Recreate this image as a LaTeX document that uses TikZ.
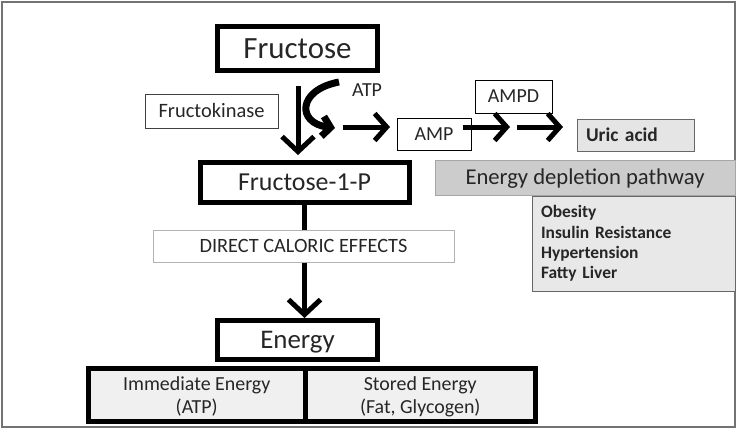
\documentclass[tikz,border=0pt]{standalone}
\usepackage{fontspec}
\setmainfont{Carlito}
\usetikzlibrary{arrows.meta}

\tikzset{
    heavybox/.style={draw, line width=5bp, inner sep=0pt, text=black!85},
    thinbox/.style={draw, line width=1bp, inner sep=0pt, text=black!85},
    caps/.style={text height=#1, text depth=0pt},
    bigarrow/.style={line width=5bp, -{Straight Barb[length=12bp,width=27bp]}}
}

\begin{document}
\begin{tikzpicture}[x=1bp, y=-1bp]
\useasboundingbox (0,0) rectangle (739,432);
\draw[black!55, line width=1.3bp] (2,2) rectangle (735,427);

% main chain
\node[heavybox, caps=19.8bp, minimum width=160bp, minimum height=44bp, font=\fontsize{31}{34}\selectfont] (fructose) at (297.5,48.5) {Fructose};
\node[thinbox, caps=13.1bp, draw=black!75, minimum width=133bp, minimum height=34bp, font=\fontsize{20.5}{24}\selectfont] (kinase) at (211.5,111) {Fructokinase};
\node[heavybox, caps=16.6bp, minimum width=209bp, minimum height=40bp, font=\fontsize{26}{30}\selectfont] (f1p) at (304.5,182.5) {Fructose-1-P};
\node[thinbox, caps=13bp, draw=black!30, minimum width=301bp, minimum height=32bp, font=\fontsize{20.4}{24}\selectfont] (direct) at (303.5,246) {DIRECT CALORIC EFFECTS};
\node[heavybox, caps=17.3bp, minimum width=160bp, minimum height=39bp, font=\fontsize{27}{31}\selectfont] (energy) at (297.5,340) {Energy};

% energy split
\node[heavybox, text depth=0pt, fill=black!6, minimum width=216.5bp, minimum height=53bp, align=center, font=\fontsize{20}{23.5}\selectfont] (immediate) at (196.75,395) {Immediate Energy\\(ATP)};
\node[heavybox, text depth=0pt, fill=black!6, minimum width=230.5bp, minimum height=53bp, align=center, font=\fontsize{20}{23.5}\selectfont] (stored) at (420.25,395) {Stored Energy\\(Fat, Glycogen)};

% side pathway
\node[caps=12.8bp, inner sep=0pt, text=black!85, font=\fontsize{20}{24}\selectfont] (atp) at (367,90.5) {ATP};
\node[thinbox, caps=12.8bp, minimum width=74bp, minimum height=32bp, font=\fontsize{20}{24}\selectfont] (amp) at (434,134) {AMP};
\node[thinbox, caps=12.8bp, minimum width=77bp, minimum height=33bp, font=\fontsize{20}{24}\selectfont] (ampd) at (513.5,96.5) {AMPD};
\node[thinbox, caps=12.6bp, draw=black!60, fill=black!10, minimum width=117bp, minimum height=32bp, text width=99bp, inner xsep=9bp, align=left, font=\bfseries\fontsize{19.5}{23}\selectfont] (uric) at (635.5,135) {Uric acid};
\node[thinbox, caps=14.5bp, draw=black!35, fill=black!20, minimum width=300bp, minimum height=35bp, font=\fontsize{22.7}{27}\selectfont] (depletion) at (585,177.5) {Energy depletion pathway};
\node[thinbox, draw=black!60, fill=black!9, minimum width=203bp, minimum height=95bp, text width=185bp, inner xsep=9bp, align=left, font=\bfseries\fontsize{17.5}{20.5}\selectfont] (effects) at (633.5,243.5) {Obesity\\Insulin Resistance\\Hypertension\\Fatty Liver};

% connectors
\coordinate (kinTop) at (298,86);
\coordinate (kinTip) at (298,155);
\draw[line width=5bp, -{Straight Barb[length=15bp,width=32bp]}] (kinTop) -- (kinTip);

\coordinate (atpIn) at (339,82);
\coordinate (atpOut) at (335,128);
\draw[line width=7bp, -{Straight Barb[length=8bp,width=20bp]}] (atpIn) .. controls (297,90) and (297,123) .. (atpOut);

\foreach \name/\s/\e in {toamp/343/390, fromamp/463/510, touric/517/563}{
    \coordinate (\name S) at (\s,127);
    \coordinate (\name E) at (\e,127);
    \draw[bigarrow] (\name S) -- (\name E);
}

\draw[line width=5bp] (f1p.south) -- (f1p.south |- direct.north);
\draw[line width=5bp, -{Straight Barb[length=15bp,width=32bp]}] (f1p.south |- direct.south) -- (f1p.south |- energy.north);

\end{tikzpicture}
\end{document}
